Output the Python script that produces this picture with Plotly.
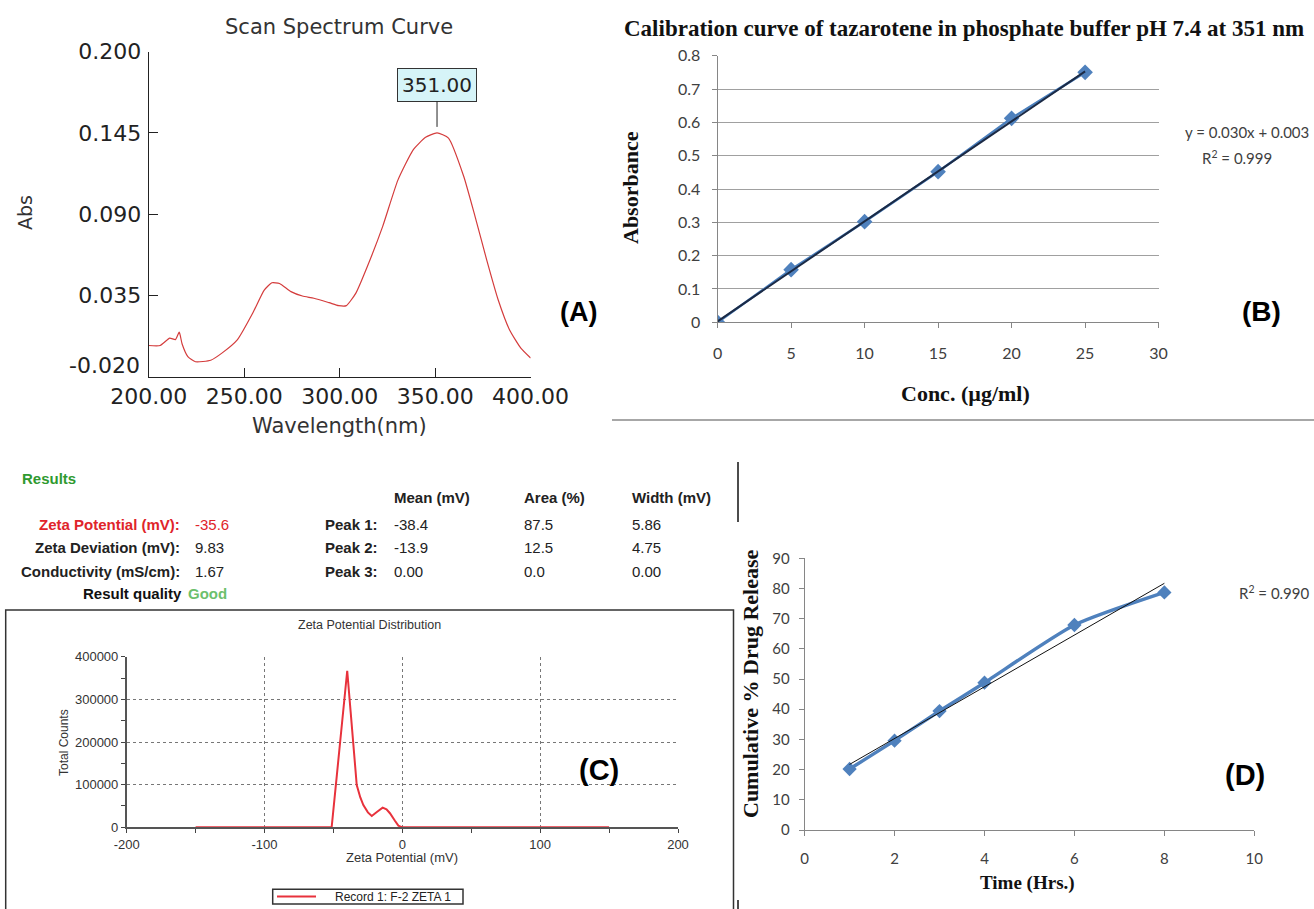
import numpy as np
import plotly.graph_objects as go

W, H = 1314, 909

# ---------------- Panel A : scan spectrum ----------------
wavelength_nm = [200, 206, 211, 214, 216, 217.5, 220.5, 224.5, 232.5, 238.5, 246.5, 254.5,
                 260.5, 264.5, 268.5, 274.5, 280.5, 286.5, 294.5, 299.5, 303.5, 308.5,
                 314.5, 322.5, 330.5, 338.5, 345, 351, 357, 365, 371, 377, 383, 389, 395, 400]
absorbance_scan = [0.001, 0.001, 0.006, 0.005, 0.010, 0.002, -0.0065, -0.010, -0.009, -0.004,
                   0.005, 0.023, 0.0385, 0.0435, 0.043, 0.0375, 0.0345, 0.033, 0.030, 0.028,
                   0.028, 0.0365, 0.0545, 0.0815, 0.113, 0.1335, 0.142, 0.145, 0.1415, 0.1155,
                   0.088, 0.059, 0.032, 0.0115, -0.001, -0.0075]
scan_peak_nm = 351.00
scan_peak_abs = 0.145
scan_xticks = [200, 250, 300, 350, 400]
scan_yticks = [-0.020, 0.035, 0.090, 0.145, 0.200]

# ---------------- Panel B : calibration curve ----------------
conc_ug_ml = [0, 5, 10, 15, 20, 25]
absorbance_cal = [0.0, 0.158, 0.302, 0.452, 0.612, 0.750]
cal_slope = 0.030
cal_intercept = 0.003
cal_r2 = 0.999

# ---------------- Panel C : zeta potential ----------------
zeta_mv = [-150, -51.3, -47.5, -45.2, -43.3, -40, -37.5, -35, -33.1, -30.5, -28.3, -25,
           -22.2, -18.5, -14.3, -11.5, -9, -5.5, -2.9, 0, 150]
zeta_counts = [0, 0, 123000, 198000, 260000, 367000, 270000, 173000, 99000, 70000, 52000,
               35000, 26500, 36000, 46000, 42000, 33000, 16000, 4000, 0, 0]
zeta_xticks = [-200, -100, 0, 100, 200]
zeta_record = "Record 1: F-2 ZETA 1"
result_labels = ["Zeta Potential (mV):", "Zeta Deviation (mV):", "Conductivity (mS/cm):"]
result_values = ["-35.6", "9.83", "1.67"]
table_headers = ["Mean (mV)", "Area (%)", "Width (mV)"]
peak_labels = ["Peak 1:", "Peak 2:", "Peak 3:"]
peak_mean = ["-38.4", "-13.9", "0.00"]
peak_area = ["87.5", "12.5", "0.0"]
peak_width = ["5.86", "4.75", "0.00"]
result_quality = "Good"

# ---------------- Panel D : drug release ----------------
time_hrs = [1, 2, 3, 4, 6, 8]
cum_release = [20.2, 29.6, 39.4, 48.8, 67.9, 78.7]
release_r2 = 0.990


def fx(px):
    return px / W


def fy(py):
    return 1 - py / H


fig = go.Figure()

# A
fig.add_trace(go.Scatter(x=wavelength_nm, y=absorbance_scan, mode="lines",
                         line=dict(color="#d43c3c", width=1.2, shape="spline", smoothing=0.5),
                         xaxis="x", yaxis="y", showlegend=False, hoverinfo="skip"))
# B
fig.add_trace(go.Scatter(x=conc_ug_ml, y=absorbance_cal, mode="lines+markers",
                         line=dict(color="#4a7ebb", width=2.5),
                         marker=dict(symbol="diamond", size=12, color="#4f81bd"),
                         xaxis="x2", yaxis="y2", showlegend=False))
trend_x_b = [conc_ug_ml[0], conc_ug_ml[-1]]
trend_y_b = [cal_slope * v + cal_intercept for v in trend_x_b]
fig.add_trace(go.Scatter(x=trend_x_b, y=trend_y_b, mode="lines",
                         line=dict(color="#1b2a45", width=2),
                         xaxis="x2", yaxis="y2", showlegend=False))
# C
fig.add_trace(go.Scatter(x=zeta_mv, y=zeta_counts, mode="lines", name=zeta_record,
                         line=dict(color="#e8323c", width=2),
                         xaxis="x3", yaxis="y3", showlegend=False))
# D
fig.add_trace(go.Scatter(x=time_hrs, y=cum_release, mode="lines+markers",
                         line=dict(color="#4f81bd", width=3.5, shape="spline", smoothing=0.6),
                         marker=dict(symbol="diamond", size=11, color="#4f81bd"),
                         xaxis="x4", yaxis="y4", showlegend=False))
coef = np.polyfit(time_hrs, cum_release, 1)
trend_x_d = np.array([time_hrs[0], time_hrs[-1]], dtype=float)
fig.add_trace(go.Scatter(x=trend_x_d, y=np.polyval(coef, trend_x_d), mode="lines",
                         line=dict(color="#111111", width=1),
                         xaxis="x4", yaxis="y4", showlegend=False))

fontA = "DejaVu Sans"
fontXL = "Lato"
fontSerif = "Liberation Serif"
fontC = "Liberation Sans"

fig.update_layout(
    width=W, height=H, autosize=False,
    margin=dict(l=0, r=0, t=0, b=0, autoexpand=False),
    paper_bgcolor="white", plot_bgcolor="white",
    template="none", showlegend=False,
    # A
    xaxis=dict(domain=[fx(148.7), fx(530.6)], range=[200, 400], anchor="y",
               tickvals=scan_xticks, ticktext=[f"{v:.2f}" for v in scan_xticks],
               ticks="inside", ticklen=9, tickcolor="#222", showline=True, linecolor="#222",
               linewidth=1, showgrid=False, zeroline=False, ticklabelstandoff=0,
               tickfont=dict(family=fontA, size=22, color="#222")),
    yaxis=dict(domain=[fy(376.5), fy(51.7)], range=[-0.02, 0.2], anchor="x",
               tickvals=scan_yticks[1:], ticktext=[f"{v:.3f}" for v in scan_yticks[1:]],
               ticks="inside", ticklen=9, tickcolor="#222", showline=True, linecolor="#222",
               linewidth=1, showgrid=False, zeroline=False, ticklabelstandoff=2,
               tickfont=dict(family=fontA, size=22, color="#222")),
    # B
    xaxis2=dict(domain=[fx(717.6), fx(1158.6)], range=[0, 30], dtick=5, anchor="y2",
                ticks="outside", ticklen=5, tickcolor="#868686", showline=True,
                linecolor="#868686", showgrid=False, zeroline=False, ticklabelstandoff=11,
                tickfont=dict(family=fontXL, size=16, color="#404040")),
    yaxis2=dict(domain=[fy(322.3), fy(55.7)], range=[0, 0.8], dtick=0.1, anchor="x2",
                ticks="outside", ticklen=5, tickcolor="#868686", showline=True,
                linecolor="#868686", showgrid=True, gridcolor="#a0a0a0", gridwidth=1,
                zeroline=False, ticklabelstandoff=8,
                tickfont=dict(family=fontXL, size=16, color="#404040")),
    # C
    xaxis3=dict(domain=[fx(126.7), fx(678)], range=[-200, 200], anchor="y3",
                tickvals=zeta_xticks, ticktext=[str(v) for v in zeta_xticks],
                ticks="outside", ticklen=4, tickcolor="#444", showline=True, linecolor="#555",
                linewidth=1.5, showgrid=True, gridcolor="#777", griddash="dot", gridwidth=1,
                zeroline=False, minor=dict(dtick=50, ticks="outside", ticklen=4, tickcolor="#444"),
                tickfont=dict(family=fontC, size=13, color="#333")),
    yaxis3=dict(domain=[fy(827.3), fy(656.7)], range=[0, 400000], dtick=100000, anchor="x3",
                ticks="outside", ticklen=4, tickcolor="#444", showline=True, linecolor="#555",
                linewidth=1.5, showgrid=True, gridcolor="#777", griddash="dot", gridwidth=1,
                zeroline=False, tickformat="d",
                minor=dict(dtick=50000, ticks="outside", ticklen=4, tickcolor="#444"),
                tickfont=dict(family=fontC, size=13, color="#333")),
    # D
    xaxis4=dict(domain=[fx(804.6), fx(1254.3)], range=[0, 10], dtick=2, anchor="y4",
                ticks="outside", ticklen=5, tickcolor="#868686", showline=True,
                linecolor="#868686", showgrid=False, zeroline=False, ticklabelstandoff=10,
                tickfont=dict(family=fontXL, size=15, color="#404040")),
    yaxis4=dict(domain=[fy(830), fy(558.3)], range=[0, 90], dtick=10, anchor="x4",
                ticks="outside", ticklen=5, tickcolor="#868686", showline=True,
                linecolor="#868686", showgrid=False, zeroline=False, ticklabelstandoff=6,
                tickfont=dict(family=fontXL, size=15, color="#404040")),
)

ann = []


def text(px, py, s, size, family, color="#222", bold=False, angle=0, xanchor="center"):
    if bold:
        s = f"<b>{s}</b>"
    ann.append(dict(x=fx(px), y=fy(py), xref="paper", yref="paper", text=s, showarrow=False,
                    textangle=angle, xanchor=xanchor, yanchor="middle",
                    font=dict(family=family, size=size, color=color)))


# Panel A texts
text(339, 27, "Scan Spectrum Curve", 21, fontA, "#333")
text(25, 213, "Abs", 19, fontA, "#333", angle=-90)
text(339, 426, "Wavelength(nm)", 21, fontA, "#333")
text(142, 365, f"{scan_yticks[0]:.3f}", 22, fontA, "#222", xanchor="right")
text(578, 312, "(A)", 27, "Liberation Sans", "#000", bold=True)
ann.append(dict(x=scan_peak_nm, y=scan_peak_abs, xref="x", yref="y",
                text=f"{scan_peak_nm:.2f}", showarrow=True, arrowhead=0, arrowwidth=1,
                arrowcolor="#222", ax=0, ay=-48, standoff=6, bgcolor="#d6f4f8",
                bordercolor="#333", borderwidth=1, borderpad=4,
                font=dict(family=fontA, size=20, color="#222")))

# Panel B texts
text(964, 28, "Calibration curve of tazarotene in phosphate buffer pH 7.4 at 351 nm", 23,
     fontSerif, "#111", bold=True)
text(630, 188, "Absorbance", 22, fontSerif, "#111", bold=True, angle=-90)
text(965, 393, "Conc. (µg/ml)", 22, fontSerif, "#111", bold=True)
text(1311, 132, f"y = {cal_slope:.3f}x + {cal_intercept:.3f}", 15, fontXL, "#404040",
     xanchor="right")
text(1237, 157, f"R<sup>2</sup> = {cal_r2:.3f}", 15, fontXL, "#404040")
text(1261, 312, "(B)", 28, "Liberation Sans", "#000", bold=True)

# Panel C results block
fs = 15
text(20, 478, "Results", fs, fontC, "#2f9a2f", bold=True, xanchor="left")
hx = [392, 522, 630]
for x0, h in zip(hx, table_headers):
    text(x0, 498, h, fs, fontC, "#222", bold=True, xanchor="left")
row_y = [524, 547, 571]
for i, yy in enumerate(row_y):
    col = "#e0242a" if i == 0 else "#222"
    text(182, yy, result_labels[i], fs, fontC, col, bold=True, xanchor="right")
    text(193, yy, result_values[i], fs, fontC, col, xanchor="left")
    text(323, yy, peak_labels[i], fs, fontC, "#222", bold=True, xanchor="left")
    text(hx[0], yy, peak_mean[i], fs, fontC, "#222", xanchor="left")
    text(hx[1], yy, peak_area[i], fs, fontC, "#222", xanchor="left")
    text(hx[2], yy, peak_width[i], fs, fontC, "#222", xanchor="left")
text(184, 593, "Result quality", fs, fontC, "#111", bold=True, xanchor="right")
text(186, 593, result_quality, fs, fontC, "#6cc06c", bold=True, xanchor="left")

# Panel C chart texts
text(369, 625, "Zeta Potential Distribution", 12.5, fontC, "#333")
text(64, 743, "Total Counts", 12, fontC, "#333", angle=-90)
text(402, 857, "Zeta Potential (mV)", 13, fontC, "#333")
text(599, 770, "(C)", 29, "Liberation Sans", "#000", bold=True)
text(333, 897, zeta_record, 12, fontC, "#222", xanchor="left")

# Panel D texts
text(750, 684, "Cumulative % Drug Release", 22, fontSerif, "#111", bold=True, angle=-90)
text(1027, 883, "Time (Hrs.)", 19, fontSerif, "#111", bold=True)
text(1312, 592, f"R<sup>2</sup> = {release_r2:.3f}", 15, fontXL, "#404040", xanchor="right")
text(1245, 775, "(D)", 29, "Liberation Sans", "#000", bold=True)

fig.update_layout(annotations=ann)

shapes = [
    dict(type="line", xref="paper", yref="paper", x0=fx(612), x1=fx(1314), y0=fy(420), y1=fy(420),
         line=dict(color="#8a8a8a", width=1.5)),
    dict(type="line", xref="paper", yref="paper", x0=fx(738), x1=fx(738), y0=fy(462), y1=fy(522),
         line=dict(color="#111", width=1.5)),
    dict(type="line", xref="paper", yref="paper", x0=fx(738), x1=fx(738), y0=fy(900), y1=fy(909),
         line=dict(color="#111", width=1.5)),
    dict(type="rect", xref="paper", yref="paper", x0=fx(5.7), x1=fx(733.5), y0=fy(915), y1=fy(610),
         line=dict(color="#333", width=1.5), fillcolor="rgba(0,0,0,0)"),
    # legend box of panel C
    dict(type="rect", xref="paper", yref="paper", x0=fx(272.7), x1=fx(463), y0=fy(904),
         y1=fy(889.3), line=dict(color="#333", width=1.5), fillcolor="white"),
    dict(type="line", xref="paper", yref="paper", x0=fx(277), x1=fx(316), y0=fy(896.5),
         y1=fy(896.5), line=dict(color="#e8323c", width=2)),
]
fig.update_layout(shapes=shapes)

fig.write_html("out.html", config={"displayModeBar": False},
               post_script="document.body.style.margin='0';document.body.style.padding='0';")
